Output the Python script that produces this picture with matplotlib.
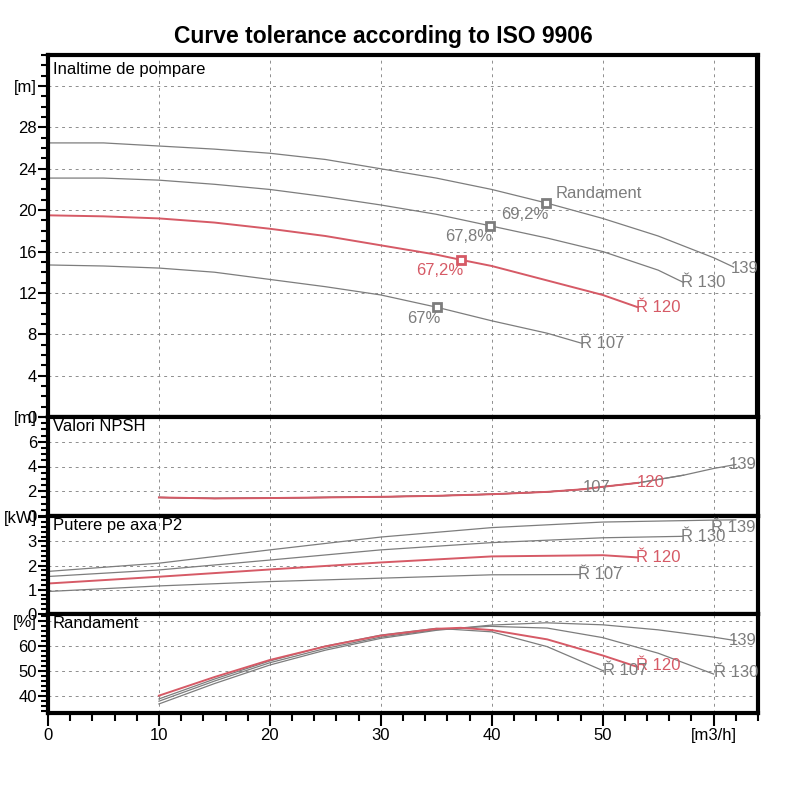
import matplotlib
matplotlib.use("Agg")
import matplotlib.pyplot as plt
from matplotlib.ticker import MultipleLocator

plt.rcParams['font.family'] = ['Liberation Sans', 'DejaVu Sans']

GRAY = "#7d7d7d"
RED = "#d65a66"

# --- Inaltime de pompare (head, m) ---
head_q_139 = [0, 5, 10, 15, 20, 25, 30, 35, 40, 44.9, 50, 55, 60, 61.8]
head_139 = [26.5, 26.5, 26.2, 25.9, 25.5, 24.9, 24.0, 23.1, 22.0, 20.7, 19.2, 17.5, 15.4, 14.5]
head_q_130 = [0, 5, 10, 15, 20, 25, 30, 35, 39.8, 45, 50, 55, 57.3]
head_130 = [23.1, 23.1, 22.9, 22.5, 22.0, 21.3, 20.5, 19.6, 18.5, 17.3, 16.0, 14.2, 13.0]
head_q_120 = [0, 5, 10, 15, 20, 25, 30, 35, 37.2, 40, 45, 50, 53.2]
head_120 = [19.5, 19.4, 19.2, 18.8, 18.2, 17.5, 16.6, 15.7, 15.2, 14.6, 13.2, 11.8, 10.6]
head_q_107 = [0, 5, 10, 15, 20, 25, 30, 35.1, 40, 45, 48.2]
head_107 = [14.7, 14.6, 14.4, 14.0, 13.3, 12.6, 11.8, 10.6, 9.3, 8.1, 7.1]

# best efficiency points
bep_q = [35.1, 37.2, 39.8, 44.9]
bep_h = [10.6, 15.2, 18.5, 20.7]
bep_text = ["67%", "67,2%", "67,8%", "69,2%"]

# --- Valori NPSH (m) ---
npsh_q = [10, 15, 20, 25, 30, 35, 40, 45, 48.2, 50, 53.2, 55, 57.3, 60, 62]
npsh = [1.5, 1.42, 1.45, 1.5, 1.55, 1.63, 1.76, 1.95, 2.16, 2.36, 2.68, 2.95, 3.3, 3.84, 4.16]
npsh_end_107, npsh_end_120, npsh_end_130 = 9, 11, 13

# --- Putere pe axa P2 (kW) ---
pow_q_139 = [0, 10, 20, 30, 40, 50, 60, 62]
pow_139 = [1.76, 2.10, 2.65, 3.18, 3.57, 3.80, 3.88, 3.89]
pow_q_130 = [0, 10, 20, 30, 40, 50, 57.2]
pow_130 = [1.55, 1.82, 2.23, 2.65, 2.95, 3.15, 3.21]
pow_q_120 = [0, 10, 20, 30, 40, 50, 53.1]
pow_120 = [1.26, 1.54, 1.84, 2.13, 2.38, 2.43, 2.34]
pow_q_107 = [0, 10, 20, 30, 40, 48]
pow_107 = [0.93, 1.16, 1.34, 1.48, 1.62, 1.63]

# --- Randament (%) ---
eff_q_139 = [10, 15, 20, 25, 30, 35, 40, 44.9, 50, 55, 60, 62]
eff_139 = [36.9, 45.0, 52.4, 58.3, 63.0, 66.2, 68.3, 69.2, 68.4, 66.4, 63.5, 62.1]
eff_q_130 = [10, 15, 20, 25, 30, 35, 39.8, 45, 50, 55, 60]
eff_130 = [38.0, 46.0, 53.3, 59.0, 63.5, 66.5, 67.8, 67.1, 63.3, 57.1, 48.8]
eff_q_120 = [10, 15, 20, 25, 30, 35, 37.2, 40, 45, 50, 53.1]
eff_120 = [40.2, 47.6, 54.4, 59.8, 64.1, 66.8, 67.2, 66.3, 62.6, 56.2, 51.7]
eff_q_107 = [10, 15, 20, 25, 30, 35, 40, 45, 50]
eff_107 = [38.9, 46.8, 54.0, 59.9, 64.3, 67.0, 65.6, 59.7, 50.2]

x_ticks = [0, 10, 20, 30, 40, 50, 60]
x_labels = ["0", "10", "20", "30", "40", "50", "[m3/h]"]


def style(ax, ylim, ticks, labels, minor, title):
    ax.set_xlim(0, 64)
    ax.set_ylim(*ylim)
    ax.set_xticks(x_ticks)
    ax.xaxis.set_minor_locator(MultipleLocator(2))
    ax.set_yticks(ticks)
    ax.set_yticklabels(labels)
    ax.yaxis.set_minor_locator(MultipleLocator(minor))
    ax.set_axisbelow(True)
    ax.grid(True, which="major", color="#8e8e8e", ls=(0, (3, 4)), lw=0.7)
    for s in ax.spines.values():
        s.set_linewidth(3)
    ax.tick_params(axis="y", which="major", direction="out", length=7,
                   width=1.5, pad=1, labelsize=12)
    ax.tick_params(axis="y", which="minor", direction="out", length=5, width=1.5)
    ax.tick_params(axis="x", which="both", length=0, labelbottom=False)
    ax.text(0.007, 0.98, title, transform=ax.transAxes, va="top", ha="left",
            fontsize=12)


fig = plt.figure(figsize=(8, 8), dpi=100)
L, W = 0.06, 0.8875
ax_h = fig.add_axes([L, 0.47875, W, 0.4525])
ax_n = fig.add_axes([L, 0.355, W, 0.12375])
ax_p = fig.add_axes([L, 0.2325, W, 0.1225])
ax_e = fig.add_axes([L, 0.10875, W, 0.12375])

fig.text(0.479, 0.954, "Curve tolerance according to ISO 9906", ha="center",
         va="center", fontsize=16.5, fontweight="bold")

# head
style(ax_h, (0, 35), list(range(0, 33, 4)),
      [str(v) for v in range(0, 29, 4)] + ["[m]"], 1, "Inaltime de pompare")
ax_h.axvline(63.75, color="black", lw=0.8)
for q, h in [(head_q_139, head_139), (head_q_130, head_130), (head_q_107, head_107)]:
    ax_h.plot(q, h, color=GRAY, lw=0.9)
ax_h.plot(head_q_120, head_120, color=RED, lw=1.4)
for q, h, t in zip(bep_q, bep_h, bep_text):
    c = RED if t == "67,2%" else GRAY
    ax_h.plot(q, h, "s", ms=6, mfc="white", mec=c, mew=2)
    ax_h.annotate(t, (q, h), xytext=(2, -8), textcoords="offset points",
                  ha="right", va="center", color=c, fontsize=12)
ax_h.annotate("Randament", (bep_q[-1], bep_h[-1]), xytext=(7, 7),
              textcoords="offset points", ha="left", va="center", color=GRAY,
              fontsize=12)
ax_h.text(61.5, 14.4, "139", color=GRAY, fontsize=12, va="center")
ax_h.text(57.1, 13.0, "Ř 130", color=GRAY, fontsize=12, va="center")
ax_h.text(53.0, 10.6, "Ř 120", color=RED, fontsize=12, va="center")
ax_h.text(48.0, 7.1, "Ř 107", color=GRAY, fontsize=12, va="center")

# npsh
style(ax_n, (0, 8), [0, 2, 4, 6, 8], ["0", "2", "4", "6", "[m]"], 0.5, "Valori NPSH")
ax_n.plot(npsh_q, npsh, color=GRAY, lw=0.9)
ax_n.plot(npsh_q[:npsh_end_130], npsh[:npsh_end_130], color=GRAY, lw=0.9)
ax_n.plot(npsh_q[:npsh_end_107], npsh[:npsh_end_107], color=GRAY, lw=0.9)
ax_n.plot(npsh_q[:npsh_end_120], npsh[:npsh_end_120], color=RED, lw=1.4)
ax_n.text(48.2, 2.3, "107", color=GRAY, fontsize=12, va="center")
ax_n.text(53.1, 2.7, "120", color=RED, fontsize=12, va="center")
ax_n.text(61.4, 4.2, "139", color=GRAY, fontsize=12, va="center")

# power
style(ax_p, (0, 4.05), [0, 1, 2, 3, 4], ["0", "1", "2", "3", "[kW]"], 0.2,
      "Putere pe axa P2")
for q, p in [(pow_q_139, pow_139), (pow_q_130, pow_130), (pow_q_107, pow_107)]:
    ax_p.plot(q, p, color=GRAY, lw=0.9)
ax_p.plot(pow_q_120, pow_120, color=RED, lw=1.4)
ax_p.text(59.8, 3.57, "Ř 139", color=GRAY, fontsize=12, va="center")
ax_p.text(57.1, 3.2, "Ř 130", color=GRAY, fontsize=12, va="center")
ax_p.text(53.0, 2.33, "Ř 120", color=RED, fontsize=12, va="center")
ax_p.text(47.8, 1.62, "Ř 107", color=GRAY, fontsize=12, va="center")

# efficiency
style(ax_e, (33.3, 72.7), [40, 50, 60, 70], ["40", "50", "60", "[%]"], 2, "Randament")
for q, e in [(eff_q_139, eff_139), (eff_q_130, eff_130), (eff_q_107, eff_107)]:
    ax_e.plot(q, e, color=GRAY, lw=0.9)
ax_e.plot(eff_q_120, eff_120, color=RED, lw=1.4)
ax_e.text(61.4, 62.1, "139", color=GRAY, fontsize=12, va="center")
ax_e.text(60.0, 49.6, "Ř 130", color=GRAY, fontsize=12, va="center")
ax_e.text(53.0, 52.4, "Ř 120", color=RED, fontsize=12, va="center")
ax_e.text(50.0, 50.2, "Ř 107", color=GRAY, fontsize=12, va="center")

ax_e.tick_params(axis="x", which="major", direction="out", length=9, width=1.5,
                 labelbottom=True, labelsize=12, pad=2)
ax_e.tick_params(axis="x", which="minor", direction="out", length=6, width=1.5)
ax_e.set_xticklabels(x_labels)

fig.savefig("out.png", dpi=100)
